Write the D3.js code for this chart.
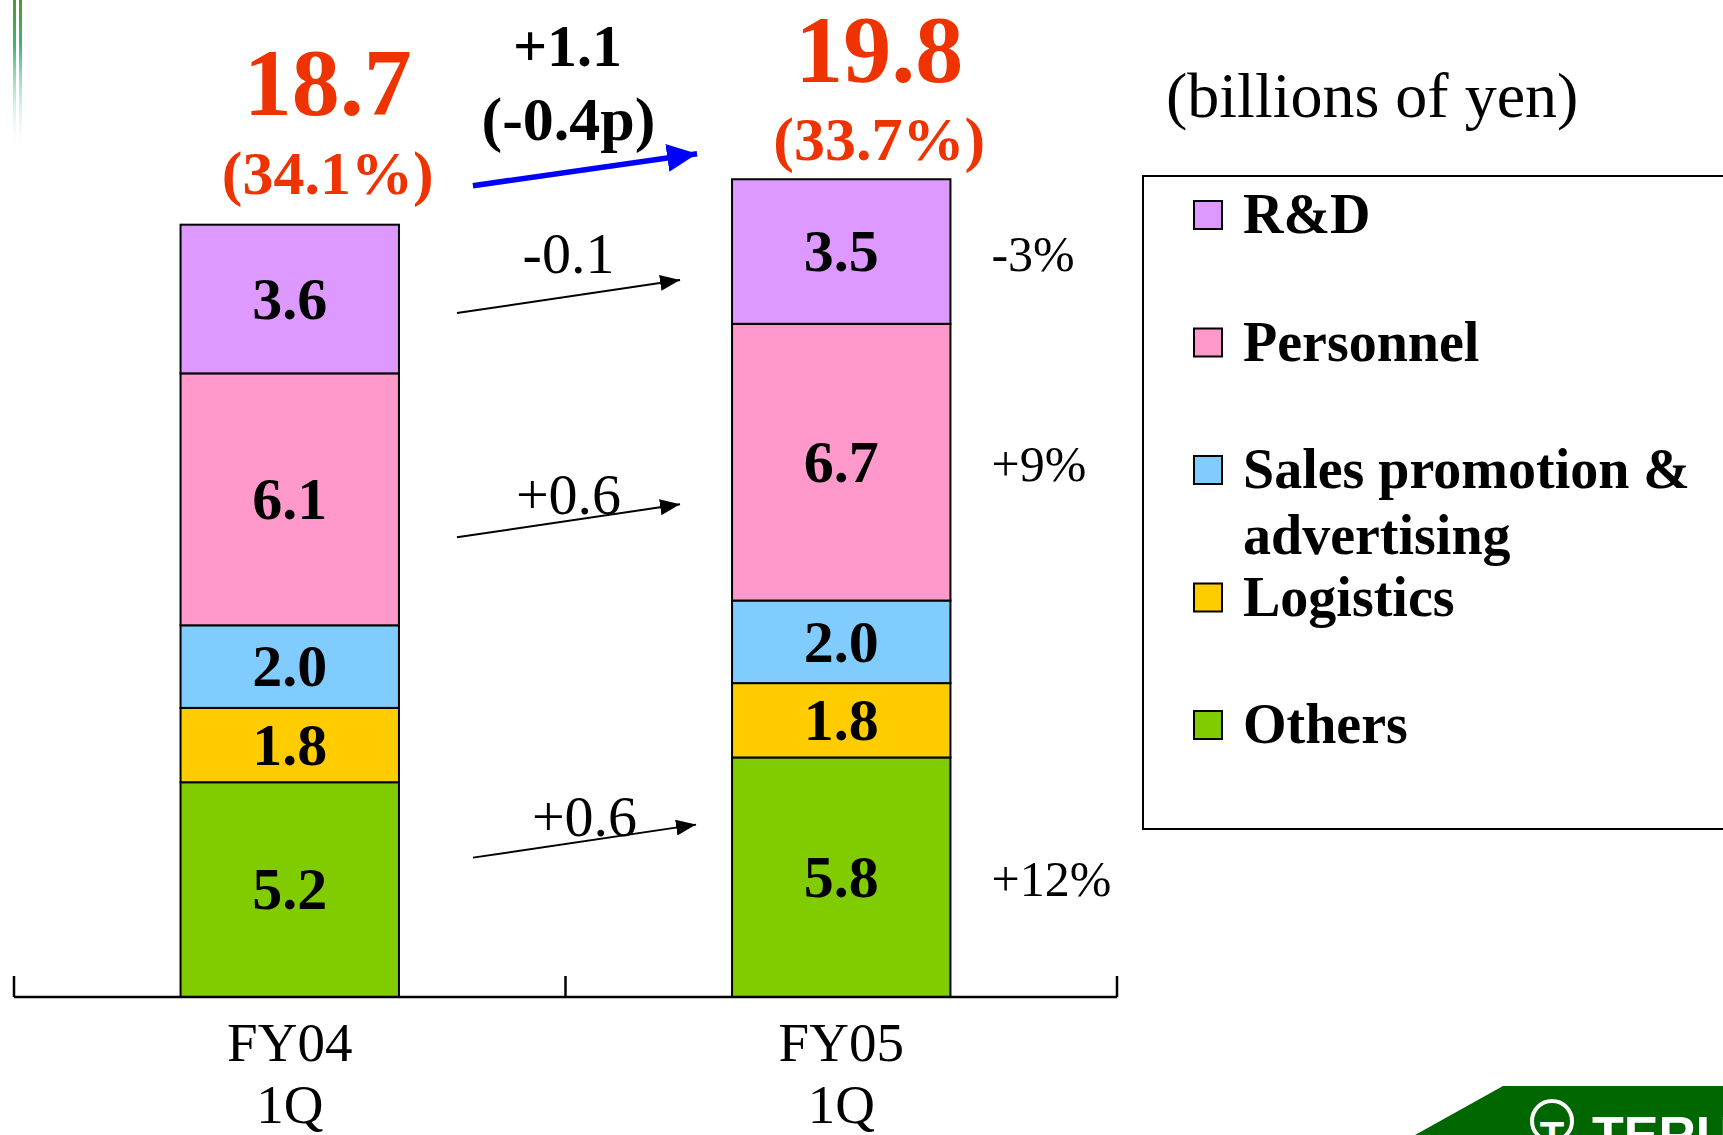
<!DOCTYPE html>
<meta charset="utf-8">
<style>
    body { margin: 0; background: #fff; }
    svg { display: block; font-family: "Liberation Serif", "Times New Roman", serif; }
</style>
<svg width="1723" height="1135"></svg>
<script src="https://d3js.org/d3.v7.min.js"></script>
<script>
    // SG&A breakdown, billions of yen
    const periods = ["FY04", "FY05"];
    const quarters = ["1Q", "1Q"];
    const categories = ["Others", "Logistics", "Sales promotion & advertising", "Personnel", "R&D"];
    const others = [5.2, 5.8];
    const logistics = [1.8, 1.8];
    const salesPromotion = [2.0, 2.0];
    const personnel = [6.1, 6.7];
    const rnd = [3.6, 3.5];
    const totals = [18.7, 19.8];
    const shares = ["(34.1%)", "(33.7%)"];
    const changes = ["+0.6", null, null, "+0.6", "-0.1"];
    const growth = ["+12%", null, null, "+9%", "-3%"];
    const totalChange = ["+1.1", "(-0.4p)"];
    const colors = ["#80cc00", "#ffcc00", "#80ccff", "#ff99cc", "#dd99ff"];

    let series = [others, logistics, salesPromotion, personnel, rnd];
    let rows = periods.map((p, i) => {
        let r = {period: p};
        categories.forEach((c, k) => r[c] = series[k][i]);
        return r;
    });

    var svg = d3.select("svg");

    let x = d3.scaleBand().domain(periods).range([14, 1117]).padding(0);
    let y = d3.scaleLinear().domain([0, 20]).range([997, 171]);
    let color = d3.scaleOrdinal().domain(categories).range(colors);
    let barW = x.bandwidth() * 0.396;
    let barX = p => x(p) + (x.bandwidth() - barW) / 2;

    let stacked = d3.stack().keys(categories)(rows);

    // green decoration, top left
    let defs = svg.append("defs");
    let grad = defs.append("linearGradient").attr("id", "fade")
        .attr("x1", 0).attr("y1", 0).attr("x2", 0).attr("y2", 1);
    grad.append("stop").attr("offset", "0%").attr("stop-color", "#4a9a30");
    grad.append("stop").attr("offset", "30%").attr("stop-color", "#3cb878");
    grad.append("stop").attr("offset", "100%").attr("stop-color", "#ffffff").attr("stop-opacity", 0);
    [13, 19].forEach(px => {
        svg.append("rect").attr("x", px).attr("y", 0).attr("width", 3).attr("height", 155)
            .attr("fill", "url(#fade)");
    });

    // arrow markers
    defs.append("marker").attr("id", "headBlack")
        .attr("markerUnits", "userSpaceOnUse").attr("viewBox", "0 0 20 16")
        .attr("refX", 20).attr("refY", 8).attr("markerWidth", 20).attr("markerHeight", 16)
        .attr("orient", "auto")
        .append("path").attr("d", "M0,0L20,8L0,16Z").attr("fill", "#000");
    defs.append("marker").attr("id", "headBlue")
        .attr("markerUnits", "userSpaceOnUse").attr("viewBox", "0 0 30 28")
        .attr("refX", 30).attr("refY", 14).attr("markerWidth", 30).attr("markerHeight", 28)
        .attr("orient", "auto")
        .append("path").attr("d", "M0,0L30,14L0,28Z").attr("fill", "#0000ff");

    // stacked bars
    let layer = svg.append("g").selectAll("g")
        .data(stacked)
        .enter().append("g")
        .attr("fill", d => color(d.key));

    layer.selectAll("rect")
        .data(d => d)
        .enter().append("rect")
        .attr("x", d => barX(d.data.period))
        .attr("y", d => y(d[1]))
        .attr("width", barW)
        .attr("height", d => y(d[0]) - y(d[1]))
        .attr("stroke", "#000")
        .attr("stroke-width", 2);

    layer.selectAll("text")
        .data(d => d)
        .enter().append("text")
        .attr("x", d => barX(d.data.period) + barW / 2)
        .attr("y", d => (y(d[0]) + y(d[1])) / 2)
        .attr("dy", "0.33em")
        .attr("text-anchor", "middle")
        .attr("font-size", 60)
        .attr("font-weight", "bold")
        .attr("fill", "#000")
        .text(d => d3.format(".1f")(d[1] - d[0]));

    // axis
    let axis = svg.append("g").attr("stroke", "#000").attr("stroke-width", 2.5);
    axis.append("line")
        .attr("x1", x.range()[0]).attr("x2", x.range()[1])
        .attr("y1", y(0)).attr("y2", y(0));
    let tickPos = periods.map(p => x(p)).concat([x.range()[1]]);
    axis.selectAll(".tick").data(tickPos).enter().append("line")
        .attr("x1", d => d).attr("x2", d => d)
        .attr("y1", y(0)).attr("y2", y(0) - 21);

    let labels = svg.append("g").selectAll("text")
        .data(periods)
        .enter().append("text")
        .attr("text-anchor", "middle")
        .attr("font-size", 55);
    labels.append("tspan")
        .attr("x", d => x(d) + x.bandwidth() / 2).attr("y", y(0) + 64)
        .text(d => d);
    labels.append("tspan")
        .attr("x", d => x(d) + x.bandwidth() / 2).attr("y", y(0) + 126)
        .text((d, i) => quarters[i]);

    // totals and share of sales
    let totalOff = [-110, -97], shareOff = [-31, -19];
    periods.forEach((p, i) => {
        let cx = barX(p) + barW / 2 + 38;
        let top = y(totals[i]);
        svg.append("text").attr("x", cx).attr("y", top + totalOff[i])
            .attr("text-anchor", "middle").attr("font-size", 96).attr("font-weight", "bold")
            .attr("fill", "#ee3300").text(d3.format(".1f")(totals[i]));
        svg.append("text").attr("x", cx).attr("y", top + shareOff[i])
            .attr("text-anchor", "middle").attr("font-size", 62).attr("font-weight", "bold")
            .attr("fill", "#ee3300").text(shares[i]);
    });

    // change arrows between the bars
    let x0 = barX(periods[0]) + barW, x1 = barX(periods[1]);
    let arrowDy = {"R&D": 14, "Personnel": 38, "Others": -32};
    let labelDy = {"R&D": -40, "Personnel": -23, "Others": -22};
    let shiftX = {"R&D": 0, "Personnel": 0, "Others": 16};
    categories.forEach((c, k) => {
        if (!changes[k]) return;
        let s = stacked[k][0];
        let ys = (y(s[0]) + y(s[1])) / 2 + arrowDy[c];
        let xs = x0 + 58 + shiftX[c], xe = x1 - 52 + shiftX[c];
        svg.append("line")
            .attr("x1", xs).attr("y1", ys).attr("x2", xe).attr("y2", ys - 33)
            .attr("stroke", "#000").attr("stroke-width", 2)
            .attr("marker-end", "url(#headBlack)");
        svg.append("text")
            .attr("x", (xs + xe) / 2).attr("y", ys + labelDy[c])
            .attr("text-anchor", "middle").attr("font-size", 58)
            .text(changes[k]);
    });

    // total change arrow
    let bys = y(totals[0]) - 39;
    svg.append("line")
        .attr("x1", x0 + 74).attr("y1", bys).attr("x2", x1 - 35).attr("y2", bys - 32)
        .attr("stroke", "#0000ff").attr("stroke-width", 5.5)
        .attr("marker-end", "url(#headBlue)");
    svg.append("text").attr("x", (x0 + x1) / 2 + 2).attr("y", bys - 120)
        .attr("text-anchor", "middle").attr("font-size", 60).attr("font-weight", "bold")
        .text(totalChange[0]);
    svg.append("text").attr("x", (x0 + x1) / 2 + 3).attr("y", bys - 46)
        .attr("text-anchor", "middle").attr("font-size", 62).attr("font-weight", "bold")
        .text(totalChange[1]);

    // growth rates on the right of FY05
    categories.forEach((c, k) => {
        if (!growth[k]) return;
        let s = stacked[k][1];
        svg.append("text")
            .attr("x", x1 + barW + 41)
            .attr("y", (y(s[0]) + y(s[1])) / 2)
            .attr("dy", "0.38em")
            .attr("font-size", 50)
            .text(growth[k]);
    });

    // unit
    svg.append("text").attr("x", 1166).attr("y", 117)
        .attr("font-size", 64).text("(billions of yen)");

    // legend
    let legend = svg.append("g");
    legend.append("rect")
        .attr("x", 1143).attr("y", 176).attr("width", 620).attr("height", 653)
        .attr("fill", "none").attr("stroke", "#000").attr("stroke-width", 2);
    let items = legend.selectAll(".item")
        .data(categories.slice().reverse())
        .enter().append("g")
        .attr("transform", (d, i) => `translate(1194, ${215 + i * 127.5})`);
    items.append("rect")
        .attr("x", 0).attr("y", -14).attr("width", 28).attr("height", 28)
        .attr("fill", d => color(d)).attr("stroke", "#000").attr("stroke-width", 2);
    let ltext = items.append("text")
        .attr("font-size", 56).attr("font-weight", "bold");
    ltext.each(function (d) {
        let parts = d === "Sales promotion & advertising" ? ["Sales promotion &", "advertising"] : [d];
        d3.select(this).selectAll("tspan").data(parts).enter().append("tspan")
            .attr("x", 49).attr("y", (t, j) => 18 + j * 66)
            .text(t => t);
    });

    // logo corner, bottom right
    let logo = svg.append("g");
    logo.append("path")
        .attr("d", "M1415,1135L1503,1086L1723,1086L1723,1135Z")
        .attr("fill", "#006600");
    logo.append("circle").attr("cx", 1552).attr("cy", 1121).attr("r", 20)
        .attr("fill", "none").attr("stroke", "#fff").attr("stroke-width", 4);
    logo.append("text").attr("x", 1552).attr("y", 1150).attr("text-anchor", "middle")
        .attr("font-family", "Liberation Sans, Arial, sans-serif").attr("font-weight", "bold")
        .attr("font-size", 40).attr("fill", "#fff").text("T");
    logo.append("text").attr("x", 1592).attr("y", 1153)
        .attr("font-family", "Liberation Sans, Arial, sans-serif").attr("font-weight", "bold")
        .attr("font-size", 52).attr("fill", "#fff").text("TERUMO");
</script>
